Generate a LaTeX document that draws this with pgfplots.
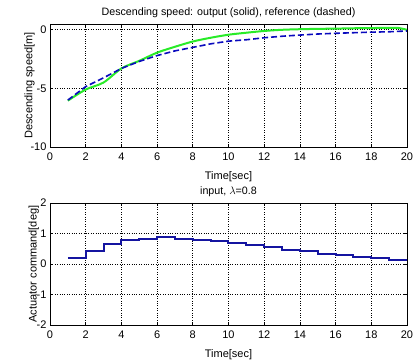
\documentclass[border=0pt]{standalone}
\usepackage{pgfplots}
\pgfplotsset{compat=1.18}
\usepackage{fontspec}
\setmainfont{Liberation Sans}
\definecolor{mgreen}{RGB}{40,235,40}
\definecolor{mblue}{RGB}{10,10,190}
\definecolor{sblue}{RGB}{20,20,160}
\begin{document}
\begin{tikzpicture}
\useasboundingbox (0pt,0pt) rectangle (416pt,363pt);
\pgfplotsset{
  mstyle/.style={
    scale only axis, width=357pt,
    xmin=0, xmax=20, xtick={0,2,...,20},
    tick align=inside, tick pos=both,
    major tick length=3pt,
    grid=major,
    major grid style={black, dotted, line width=0.6pt},
    axis line style={black, line width=0.6pt},
    tick style={black, line width=0.6pt},
    /pgf/number format/assume math mode=true,
    tick label style={font=\fontsize{11}{13}\selectfont},
    xticklabel style={yshift=-2pt},
    label style={font=\fontsize{11}{13}\selectfont},
    title style={font=\fontsize{10.7}{12}\selectfont},
    xlabel={Time[sec]},
    xlabel style={yshift=-4.5pt},
  }
}
\begin{axis}[mstyle, at={(50pt,333.2pt)}, anchor=origin, height=123pt,
  ymin=-10, ymax=0.5, ytick={-10,-5,0},
  ylabel={Descending speed[m]},
  ylabel style={yshift=-11pt},
  title={Descending speed: output (solid), reference (dashed)},
  title style={yshift=-3pt}]
\addplot[mgreen, line width=2pt, smooth] coordinates {
(1,-6.05) (2,-5.1) (3,-4.5) (4,-3.3) (5,-2.65) (6,-1.95) (7,-1.45) (8,-1.0) (9,-0.68) (10,-0.42) (11,-0.25) (12,-0.1) (13,0.0) (14,0.05) (15,0.08) (16,0.1) (17,0.13) (18,0.15) (19,0.16) (19.5,0.16) (20,0.0)};
\addplot[mblue, line width=1.6pt, dash pattern=on 6pt off 3pt] coordinates {
(1,-6.0) (2,-4.85) (3,-4.1) (4,-3.3) (5,-2.7) (6,-2.2) (7,-1.8) (8,-1.5) (9,-1.2) (10,-0.97) (11,-0.85) (12,-0.68) (13,-0.55) (14,-0.45) (15,-0.36) (16,-0.3) (17,-0.25) (18,-0.2) (19,-0.17) (20,-0.1)};
\end{axis}
\begin{axis}[mstyle, at={(50pt,99pt)}, anchor=origin, height=122pt,
  ymin=-2, ymax=2, ytick={-2,-1,0,1,2},
  ylabel={Actuator command[deg]},
  ylabel style={yshift=-9pt},
  title={input, \(\lambda\)=0.8},
  title style={yshift=-3pt}]
\addplot[sblue, line width=2pt, const plot] coordinates {
(1,0.2) (2,0.42) (3,0.67) (4,0.78) (5,0.83) (6,0.87) (7,0.83) (8,0.8) (9,0.76) (10,0.7) (11,0.61) (12,0.56) (13,0.47) (14,0.41) (15,0.34) (16,0.29) (17,0.23) (18,0.19) (19,0.12) (20,0.12)};
\end{axis}
\end{tikzpicture}
\end{document}
